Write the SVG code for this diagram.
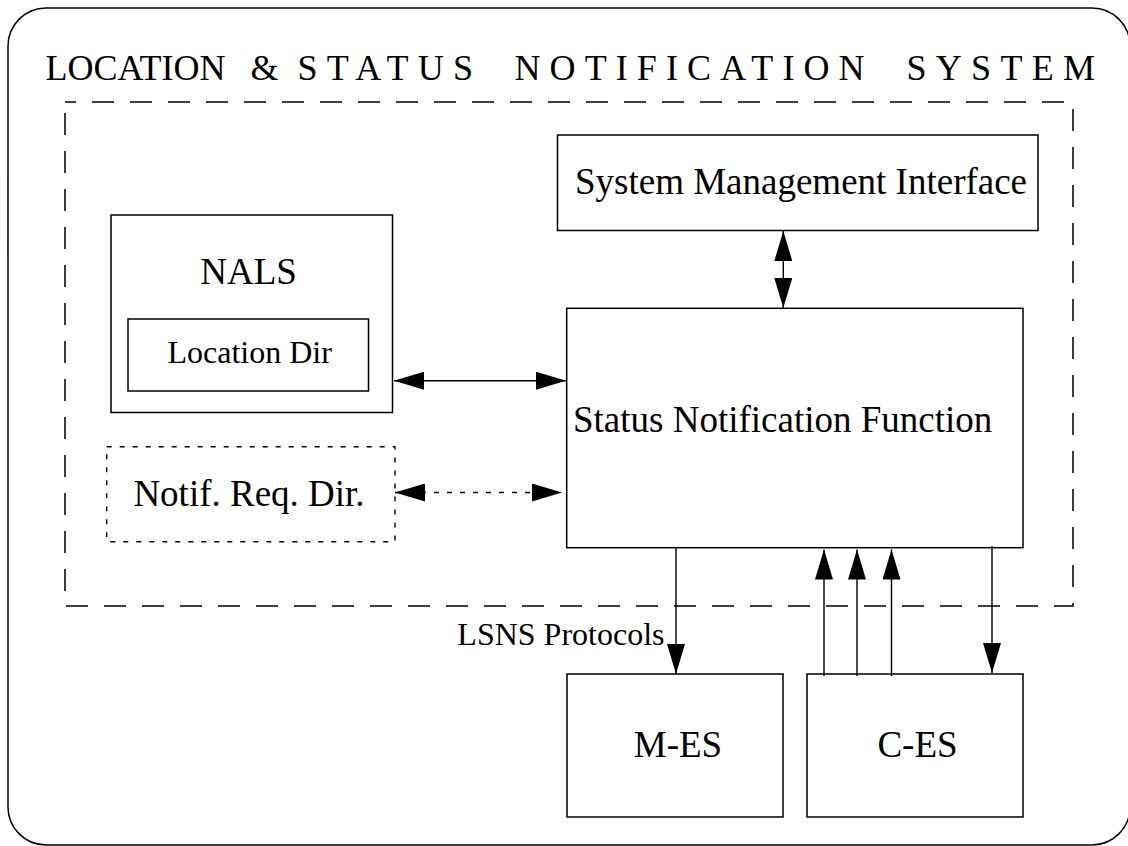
<svg xmlns="http://www.w3.org/2000/svg" width="1128" height="846" viewBox="0 0 1128 846">
<style>
text{font-family:"Liberation Serif","Times New Roman",serif;fill:#000}
.big{font-size:37px}
.small{font-size:32px}
.title{font-size:36px}
.sp{letter-spacing:9.3px}
.box{fill:none;stroke:#000;stroke-width:1.5}
.dash{fill:none;stroke:#000;stroke-width:1.5;stroke-dasharray:22 16;stroke-dashoffset:11}
.dot{fill:none;stroke:#000;stroke-width:1.4;stroke-dasharray:5 8}
.ln{fill:none;stroke:#000;stroke-width:1.4}
</style>
<defs>
<marker id="ah" markerUnits="userSpaceOnUse" markerWidth="30" markerHeight="18" viewBox="0 0 30 18" refX="30" refY="9" orient="auto-start-reverse">
<path d="M0,0 L30,9 L0,18 z" fill="#000"/>
</marker>
</defs>
<g id="frame">
<rect class="box" x="8" y="8" width="1122" height="837" rx="38" ry="38"/>
<text class="title" y="80"><tspan x="45.5">LOCATION</tspan><tspan x="250.5">&amp;</tspan><tspan class="sp" x="297.5">STATUS</tspan><tspan class="sp" x="514.5" style="letter-spacing:9.1px">NOTIFICATION</tspan><tspan class="sp" x="906.5">SYSTEM</tspan></text>
<rect class="dash" x="65" y="102" width="1008" height="504"/>
</g>
<g id="smi">
<rect class="box" x="557.5" y="135" width="480.5" height="95.5"/>
<text class="big" x="575" y="194">System Management Interface</text>
</g>
<g id="nals">
<rect class="box" x="111" y="215" width="281.5" height="197.5"/>
<text class="big" x="248.5" y="284" text-anchor="middle">NALS</text>
</g>
<g id="locdir">
<rect class="box" x="128" y="319" width="240.5" height="72"/>
<text class="small" x="249.7" y="362.7" text-anchor="middle">Location Dir</text>
</g>
<g id="notif">
<rect class="dot" x="106.7" y="446.7" width="288.3" height="95"/>
<text class="big" x="249" y="505.7" text-anchor="middle">Notif. Req. Dir.</text>
</g>
<g id="snf">
<rect class="box" x="566.7" y="308.3" width="456.3" height="239.4"/>
<text class="big" x="573" y="431.7">Status Notification Function</text>
</g>
<g id="mes">
<rect class="box" x="567" y="674" width="216" height="143"/>
<text class="big" x="678" y="756.7" text-anchor="middle">M-ES</text>
</g>
<g id="ces">
<rect class="box" x="807" y="674" width="216" height="143"/>
<text class="big" x="917.5" y="756.7" text-anchor="middle">C-ES</text>
</g>
<g id="connectors">
<line class="ln" x1="783.3" y1="231" x2="783.3" y2="308" marker-start="url(#ah)" marker-end="url(#ah)"/>
<line class="ln" x1="394" y1="380.7" x2="566" y2="380.7" marker-start="url(#ah)" marker-end="url(#ah)"/>
<line class="dot" x1="395" y1="492.5" x2="562" y2="492.5" marker-start="url(#ah)" marker-end="url(#ah)"/>
<line class="ln" x1="676" y1="548" x2="676" y2="674" marker-end="url(#ah)"/>
<text class="small" x="664.5" y="645" text-anchor="end">LSNS Protocols</text>
<line class="ln" x1="824" y1="676" x2="824" y2="549.5" marker-end="url(#ah)"/>
<line class="ln" x1="857" y1="676" x2="857" y2="549.5" marker-end="url(#ah)"/>
<line class="ln" x1="891.5" y1="676" x2="891.5" y2="549.5" marker-end="url(#ah)"/>
<line class="ln" x1="992" y1="546" x2="992" y2="673" marker-end="url(#ah)"/>
</g>
</svg>
